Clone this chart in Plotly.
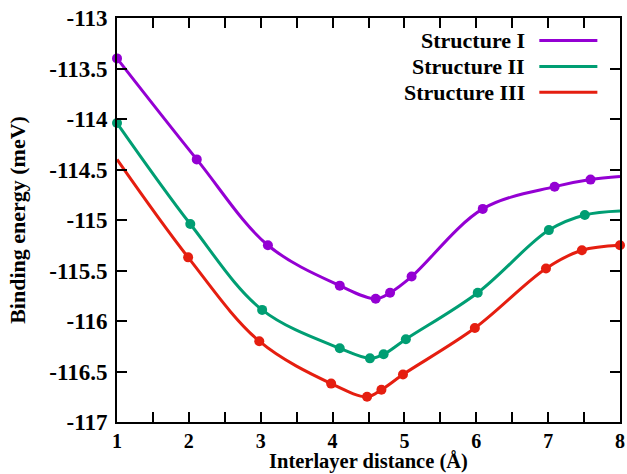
import numpy as np
import plotly.graph_objects as go

# ---- data ----
series_names = ["Structure I", "Structure II", "Structure III"]
series_colors = ["#9400D3", "#009E73", "#E51E10"]

x_s1 = [1.0, 2.11, 3.10, 4.10, 4.60, 4.80, 5.10, 6.09, 7.09, 7.59, 8.0]
y_s1 = [-113.40, -114.40, -115.25, -115.65, -115.78, -115.72, -115.56, -114.89, -114.67, -114.60, -114.57]

x_s2 = [1.0, 2.02, 3.02, 4.10, 4.52, 4.71, 5.02, 6.02, 7.01, 7.51, 8.0]
y_s2 = [-114.04, -115.04, -115.89, -116.27, -116.37, -116.33, -116.18, -115.72, -115.10, -114.95, -114.91]

x_s3 = [1.0, 1.99, 2.98, 3.98, 4.48, 4.68, 4.98, 5.98, 6.97, 7.47, 8.0]
y_s3 = [-114.40, -115.37, -116.20, -116.62, -116.75, -116.68, -116.53, -116.07, -115.48, -115.30, -115.25]

x_tick_vals = [1, 2, 3, 4, 5, 6, 7, 8]
x_tick_labels = ["1", "2", "3", "4", "5", "6", "7", "8"]
y_tick_vals = [-113, -113.5, -114, -114.5, -115, -115.5, -116, -116.5, -117]
y_tick_labels = ["-113", "-113.5", "-114", "-114.5", "-115", "-115.5", "-116", "-116.5", "-117"]

x_title = "Interlayer distance (Å)"
y_title = "Binding energy (meV)"

# marker visibility per point (end points without marker where the original shows none)
marker_sizes = [
    [10] * 10 + [0],
    [10] * 10 + [0],
    [0] + [10] * 10,
]

FONT = "Liberation Serif"

fig = go.Figure()
for xs, ys, name, col, ms in zip([x_s1, x_s2, x_s3], [y_s1, y_s2, y_s3],
                                 series_names, series_colors, marker_sizes):
    fig.add_trace(go.Scatter(
        x=xs, y=ys, name=name, mode="lines+markers",
        line=dict(color=col, width=3, shape="spline", smoothing=1.0),
        marker=dict(color=col, size=ms, opacity=1, line=dict(width=0)),
        cliponaxis=False, showlegend=False,
    ))

# x ticks every 0.5, labels only on integers
xt_vals = []
xt_text = []
for v, t in zip(x_tick_vals, x_tick_labels):
    xt_vals.append(v)
    xt_text.append(t)
    if v < x_tick_vals[-1]:
        xt_vals.append(v + 0.5)
        xt_text.append("")

axis_common = dict(
    showline=True, linecolor="black", linewidth=2, mirror="ticks",
    ticks="inside", ticklen=10, tickwidth=1.5, tickcolor="black",
    showgrid=False, zeroline=False, automargin=False,
)

fig.update_layout(
    width=627, height=474,
    margin=dict(l=117, r=7, t=18, b=52),
    paper_bgcolor="white", plot_bgcolor="white",
    font=dict(family=FONT, size=22, color="black", weight="bold"),
    xaxis=dict(range=[1, 8], tickmode="array", tickvals=xt_vals, ticktext=xt_text,
               ticklabelstandoff=0,
               tickfont=dict(family=FONT, size=20, color="black", weight="bold"),
               **axis_common),
    yaxis=dict(range=[-117, -113], tickmode="array", tickvals=y_tick_vals, ticktext=y_tick_labels,
               ticklabelstandoff=3,
               tickfont=dict(family=FONT, size=23, color="black", weight="bold"),
               title=dict(text=y_title, standoff=18,
                          font=dict(family=FONT, size=22, weight="bold")),
               **axis_common),
)

# x-axis title placed like the original (close under the tick labels, at the bottom edge)
fig.add_annotation(x=0.5, y=-0.1297, xref="paper", yref="paper", text=x_title,
                   showarrow=False, xanchor="center", yanchor="bottom", borderpad=0,
                   font=dict(family=FONT, size=20.5, color="black", weight="bold"))

# legend drawn like the original: right-aligned text, line sample to the right
leg_y = [0.9446, 0.880, 0.816]
for name, col, yy in zip(series_names, series_colors, leg_y):
    fig.add_annotation(x=0.815, y=yy, xref="paper", yref="paper", text=name,
                       showarrow=False, xanchor="right", yanchor="middle",
                       font=dict(family=FONT, size=22, color="black", weight="bold"))
    fig.add_shape(type="line", xref="paper", yref="paper", x0=0.8396, x1=0.955,
                  y0=yy, y1=yy, line=dict(color=col, width=3))

fig.write_html("out.html")
